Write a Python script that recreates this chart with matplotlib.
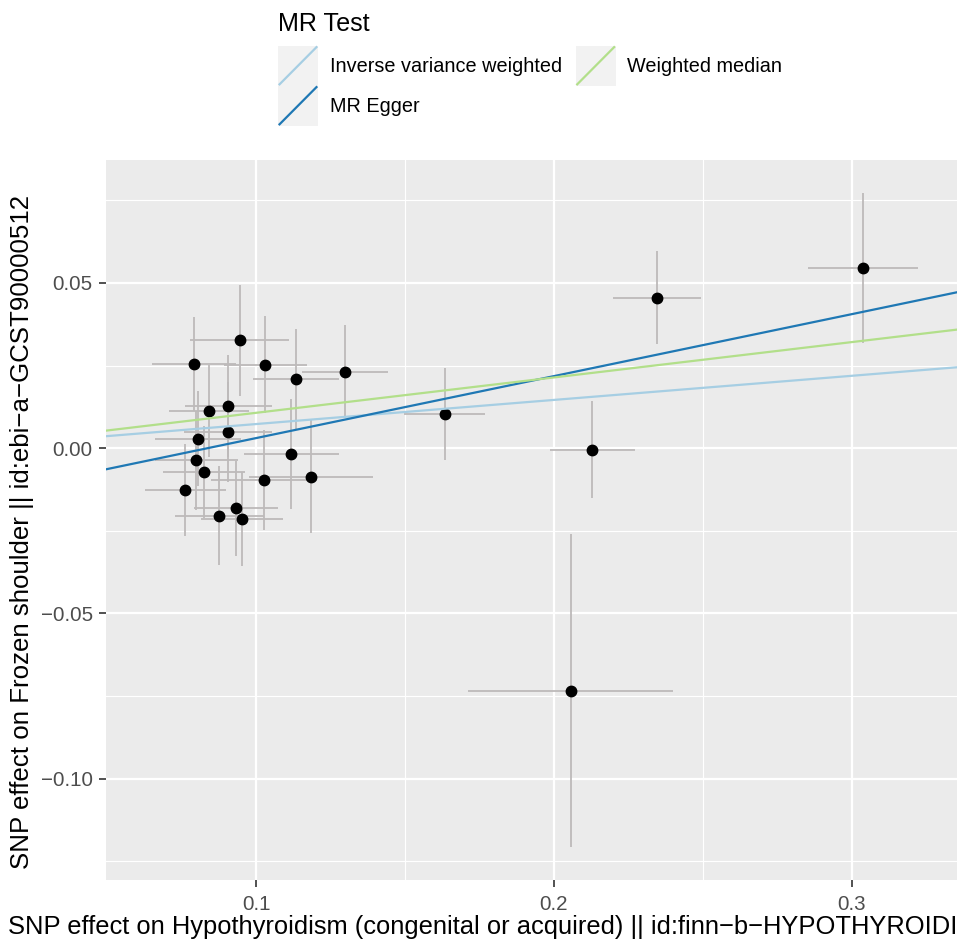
import numpy as np
import matplotlib
matplotlib.use("Agg")
import matplotlib.pyplot as plt
from matplotlib.legend_handler import HandlerBase
from matplotlib.patches import Rectangle
from matplotlib.lines import Line2D

# SNP effects on exposure (x) and outcome (y) with standard errors
beta_exposure = [0.0945, 0.0791, 0.1031, 0.1134, 0.1299, 0.0907, 0.0841, 0.0906,
                 0.0804, 0.1119, 0.0799, 0.0826, 0.1184, 0.1026, 0.0763, 0.0934,
                 0.0877, 0.0952, 0.1633, 0.2347, 0.3038, 0.2129, 0.2056]
beta_outcome = [0.0326, 0.0256, 0.0253, 0.0209, 0.0232, 0.0128, 0.0112, 0.0049,
                0.0029, -0.0017, -0.0036, -0.0072, -0.0087, -0.0097, -0.0126, -0.0182,
                -0.0204, -0.0214, 0.0103, 0.0456, 0.0545, -0.0005, -0.0734]
se_exposure = [0.0166, 0.0140, 0.0140, 0.0145, 0.0144, 0.0145, 0.0134, 0.0148,
               0.0144, 0.0158, 0.0140, 0.0137, 0.0208, 0.0178, 0.0137, 0.0141,
               0.0150, 0.0137, 0.0135, 0.0148, 0.0186, 0.0143, 0.0345]
se_outcome = [0.0168, 0.0142, 0.0147, 0.0151, 0.0141, 0.0154, 0.0140, 0.0150,
              0.0143, 0.0167, 0.0150, 0.0140, 0.0171, 0.0151, 0.0140, 0.0143,
              0.0149, 0.0142, 0.0140, 0.0141, 0.0228, 0.0147, 0.0474]

# MR methods: intercept and slope
methods = ['Inverse variance weighted', 'MR Egger', 'Weighted median']
intercepts = [0.0, -0.0157, 0.0]
slopes = [0.0730, 0.1875, 0.1070]
colours = ['#A6CEE3', '#1F78B4', '#B2DF8A']

x_ticks = [0.1, 0.2, 0.3]
x_labels = ['0.1', '0.2', '0.3']
y_ticks = [-0.10, -0.05, 0.00, 0.05]
y_labels = ['\u22120.10', '\u22120.05', '0.00', '0.05']

plt.rcParams['font.family'] = ['Liberation Sans', 'DejaVu Sans']


class AblineKey(HandlerBase):
    """ggplot style legend key: grey square with a diagonal line"""
    def create_artists(self, legend, orig_handle, xdescent, ydescent,
                       width, height, fontsize, trans):
        x0, y0 = -xdescent, -ydescent
        bg = Rectangle((x0, y0), width, height, facecolor='#F2F2F2',
                       edgecolor='none', transform=trans)
        ln = Line2D([x0 + 1, x0 + width - 1], [y0 + 1, y0 + height - 1],
                    color=orig_handle.get_color(), lw=orig_handle.get_linewidth(),
                    transform=trans)
        return [bg, ln]


bx = np.array(beta_exposure)
by = np.array(beta_outcome)
sx = np.array(se_exposure)
sy = np.array(se_outcome)

# ggplot-like 5% expansion of the data range
xlo, xhi = (bx - sx).min(), (bx + sx).max()
ylo, yhi = (by - sy).min(), (by + sy).max()
xpad = 0.05 * (xhi - xlo)
ypad = 0.05 * (yhi - ylo)

fig = plt.figure(figsize=(9.69, 9.42), dpi=100)
ax = fig.add_axes([0.1094, 0.0658, 0.8782, 0.7643])
ax.set_facecolor('#EBEBEB')
for s in ax.spines.values():
    s.set_visible(False)

ax.errorbar(bx, by, yerr=sy, fmt='none', ecolor='#BDBABA', elinewidth=1.3, capsize=0, zorder=2)
ax.errorbar(bx, by, xerr=sx, fmt='none', ecolor='#BDBABA', elinewidth=1.3, capsize=0, zorder=2)
ax.plot(bx, by, 'o', color='black', markersize=7.5, zorder=3)

handles = []
for name, a, b, c in zip(methods, intercepts, slopes, colours):
    ax.axline((0, a), slope=b, color=c, lw=1.6, zorder=4)
    handles.append(Line2D([], [], color=c, lw=1.6, label=name))

ax.set_xlim(xlo - xpad, xhi + xpad)
ax.set_ylim(ylo - ypad, yhi + ypad)
ax.set_xticks(x_ticks, labels=x_labels)
ax.set_yticks(y_ticks, labels=y_labels)
ax.set_xticks([0.15, 0.25], minor=True)
ax.set_yticks([-0.125, -0.075, -0.025, 0.025, 0.075], minor=True)
ax.grid(which='major', color='white', lw=1.6)
ax.grid(which='minor', color='white', lw=0.8)
ax.set_axisbelow(True)
ax.tick_params(which='major', length=5, width=1.2, color='#333333',
               labelcolor='#4D4D4D', labelsize=14.8)
ax.tick_params(axis='x', which='major', pad=5.5)
ax.tick_params(axis='y', which='major', pad=4.5)
ax.tick_params(which='minor', length=0)

ax.set_xlabel('SNP effect on Hypothyroidism (congenital or acquired) || id:finn\u2212b\u2212HYPOTHYROIDI',
              fontsize=18.4, ha='left', va='center')
ax.xaxis.set_label_coords(-0.1152, -0.0653)
ax.set_ylabel('SNP effect on Frozen shoulder || id:ebi\u2212a\u2212GCST90000512',
              fontsize=18.6, ha='center', va='center')
ax.yaxis.set_label_coords(-0.0987, 0.4833)

leg = fig.legend(handles=handles, loc='upper left', bbox_to_anchor=(0.2727, 1.002),
                 ncol=2, frameon=False, fontsize=14.3, title='MR Test',
                 title_fontsize=18.1, alignment='left',
                 handler_map={Line2D: AblineKey()},
                 handlelength=2.0, handleheight=2.72, handletextpad=0.6,
                 columnspacing=0.7, labelspacing=0.0, borderpad=0.2)
leg._legend_box.sep = 7  # gap between legend title and keys

fig.savefig('out.png', dpi=100)
